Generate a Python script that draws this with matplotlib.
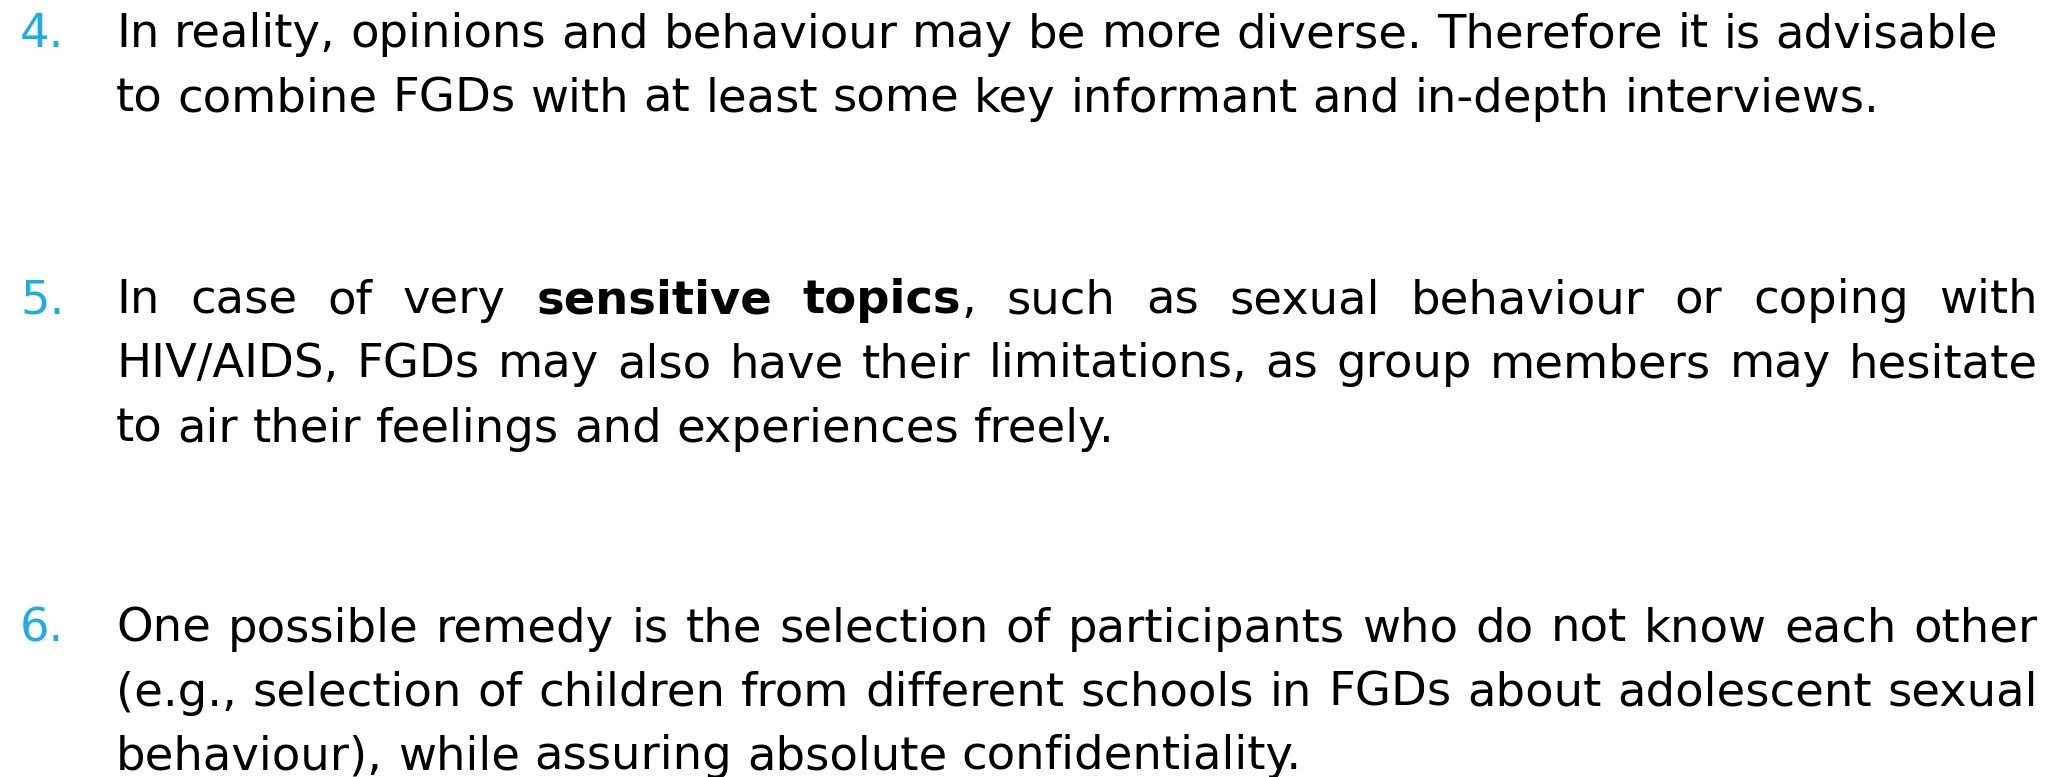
import matplotlib
matplotlib.use("Agg")
import matplotlib.pyplot as plt

# slide content
numbers = ["4.", "5.", "6."]
item4_lines = [
    "In reality, opinions and behaviour may be more diverse. Therefore it is advisable",
    "to combine FGDs with at least some key informant and in-depth interviews.",
]
item5_lines = [
    "In case of very *sensitive* *topics*, such as sexual behaviour or coping with",
    "HIV/AIDS, FGDs may also have their limitations, as group members may hesitate",
    "to air their feelings and experiences freely.",
]
item6_lines = [
    "One possible remedy is the selection of participants who do not know each other",
    "(e.g., selection of children from different schools in FGDs about adolescent sexual",
    "behaviour), while assuring absolute confidentiality.",
]
item4_justify = [False, False]
item5_justify = [True, True, False]
item6_justify = [True, True, False]

# layout (pixels, from top)
W, H = 2062, 777
num_x, text_x, right_x = 20, 116, 2038
baselines = [[47, 112], [313, 377, 442], [642, 706, 769]]
blue = "#1CADE4"
family = "DejaVu Sans"

fig = plt.figure(figsize=(W / 100, H / 100), dpi=100)
ax = fig.add_axes([0, 0, 1, 1])
ax.set_xlim(0, W)
ax.set_ylim(H, 0)
ax.axis("off")
renderer = fig.canvas.get_renderer()


def width(s, size, bold=False):
    t = ax.text(0, 0, s, fontsize=size, family=family,
                fontweight="bold" if bold else "normal")
    w = t.get_window_extent(renderer).width
    t.remove()
    return w


# pick size so the first line of item 4 ends where it does on the slide
fs = 10 * (1996 - text_x) / width(item4_lines[0], 10)


def segments(word):
    # "*x*" marks bold parts
    parts = word.split("*")
    return [(p, i % 2 == 1) for i, p in enumerate(parts) if p]


def draw_line(line, y, justify):
    words = line.split(" ")
    segs = [segments(w) for w in words]
    widths = [sum(width(s, fs, b) for s, b in sg) for sg in segs]
    space = width("a a", fs) - width("aa", fs)
    if justify and len(words) > 1:
        gap = (right_x - text_x - sum(widths)) / (len(words) - 1)
    else:
        gap = space
    x = text_x
    for sg, w in zip(segs, widths):
        xx = x
        for s, b in sg:
            ax.text(xx, y, s, fontsize=fs, family=family, va="baseline",
                    fontweight="bold" if b else "normal", color="black")
            xx += width(s, fs, b)
        x += w + gap


all_lines = [item4_lines, item5_lines, item6_lines]
all_just = [item4_justify, item5_justify, item6_justify]
for num, lines, just, ys in zip(numbers, all_lines, all_just, baselines):
    ax.text(num_x, ys[0], num, fontsize=fs, family=family, va="baseline", color=blue)
    for line, j, y in zip(lines, just, ys):
        draw_line(line, y, j)

fig.savefig("out.png", dpi=100)
